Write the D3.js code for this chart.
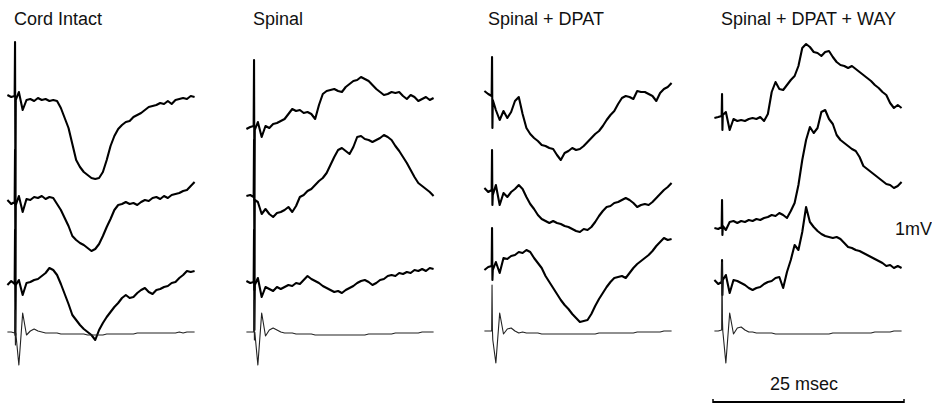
<!DOCTYPE html>
<html>
<head>
<meta charset="utf-8">
<script src="https://cdn.jsdelivr.net/npm/d3@7"></script>
<style>
  body { margin: 0; background: #fff; }
  text { font-family: "Liberation Sans", Arial, sans-serif; font-size: 18px; fill: #111; }
</style>
</head>
<body>
<div id="chart"></div>
<script>
// Evoked potentials, 4 conditions x 4 sweeps (3 recordings + stimulus-only sweep)

let conditions = ["Cord Intact", "Spinal", "Spinal + DPAT", "Spinal + DPAT + WAY"];

// sample times (msec), stimulus at 1.0 msec
let times = [0, 0.5, 0.95, 1.0, 1.05, 1.1,
  1.5, 2, 2.5, 3, 3.5, 4, 4.5, 5, 5.5, 6,
  6.5, 7, 7.5, 8, 8.5, 9, 9.5, 10, 10.5, 11,
  11.5, 12, 12.5, 13, 13.5, 14, 14.5, 15, 15.5, 16,
  16.5, 17, 17.5, 18, 18.5, 19, 19.5, 20, 20.5, 21,
  21.5, 22, 22.5, 23, 23.5, 24, 24.5];

// potentials (microvolts) relative to pre-stimulus level
let cordIntact = [
  [20, 0, 10, 550, -1080, -30, 50, -130, -30, -20, -40, -10, -30, -20, -40, -30, -40, -110, -210, -310, -470, -630, -700, -750, -780, -810, -820, -810, -750, -630, -490, -390, -320, -280, -250, -240, -200, -180, -160, -130, -100, -90, -80, -60, -70, -40, -70, -30, -20, -10, -20, 10, 0],
  [20, -20, 0, 520, -830, -30, 60, -100, 30, 20, 50, 40, 60, 30, 50, 40, -20, -80, -160, -240, -340, -380, -410, -430, -460, -490, -470, -420, -340, -250, -170, -80, -30, -20, 0, -20, -10, -30, 0, 20, 10, 40, 50, 30, 60, 40, 70, 80, 90, 110, 120, 160, 200],
  [-20, 20, -10, 530, -520, -20, 30, -120, 0, 10, 30, 40, 70, 100, 150, 130, 80, -10, -110, -210, -320, -370, -420, -460, -490, -520, -570, -470, -400, -340, -290, -240, -200, -150, -120, -150, -140, -100, -70, -50, -90, -110, -70, -60, -40, -30, 0, 10, 50, 80, 120, 110, 120],
  [10, 10, 0, 230, -120, 0, -320, 200, -20, 20, 40, 20, 10, 0, 0, 0, 0, -10, -10, -10, -10, -10, -10, -10, -20, -20, -20, -20, -20, -10, -10, -10, -10, -10, -10, -10, -10, 0, 0, 0, 0, 0, 0, 0, 0, 0, 0, 0, 10, 0, 10, 10, 10]
];

let spinal = [
  [-20, 0, 10, 670, -730, -30, 50, -100, 10, -10, 30, 40, 60, 80, 130, 180, 160, 170, 140, 150, 130, 80, 220, 330, 360, 370, 380, 360, 350, 400, 430, 460, 470, 500, 480, 460, 420, 380, 350, 320, 330, 350, 340, 350, 310, 280, 320, 300, 260, 280, 300, 270, 290],
  [0, 10, -10, 560, -940, -40, -60, -180, -130, -180, -210, -170, -160, -140, -110, -160, -100, -10, 10, 50, 70, 110, 150, 180, 230, 310, 390, 460, 480, 450, 420, 490, 590, 600, 570, 560, 540, 560, 580, 610, 590, 560, 500, 450, 390, 330, 260, 190, 130, 100, 70, 40, 0],
  [10, -10, 0, 520, -480, -30, 40, -150, -50, -70, -90, -50, -70, -50, -30, -40, -10, -20, 20, 60, 30, 10, -10, -40, -60, -80, -100, -90, -110, -80, -60, -40, -10, 10, 20, 0, -30, -10, 20, 30, 60, 70, 60, 90, 80, 100, 90, 120, 110, 130, 110, 140, 130],
  [0, 0, 0, 320, -80, 0, -330, 190, -40, 20, 40, 20, 0, -10, -10, -10, -20, -20, -20, -20, -20, -30, -30, -30, -30, -30, -30, -30, -30, -30, -30, -30, -30, -30, -30, -20, -20, -20, -20, -20, -20, -20, -10, -10, -10, -10, -10, -10, -10, 0, 0, 0, 0]
];

let spinalDpat = [
  [10, -20, -40, 350, -360, -80, -180, -280, -190, -260, -200, -90, -50, -220, -360, -420, -460, -490, -530, -540, -560, -570, -630, -680, -610, -590, -560, -580, -570, -540, -500, -460, -420, -390, -340, -280, -230, -190, -120, -60, -40, -50, -70, 10, 0, 0, -20, -40, -90, -10, 30, 50, 90],
  [10, -30, -10, 390, -160, -60, 40, -160, -40, -80, -30, 0, 40, 0, -80, -150, -200, -260, -300, -320, -340, -320, -340, -350, -370, -380, -400, -420, -430, -400, -410, -380, -330, -270, -220, -180, -170, -140, -130, -110, -90, -110, -140, -180, -160, -150, -160, -130, -90, -50, -10, 20, 60],
  [-20, 10, 20, 400, -120, -20, 60, -50, 100, 90, 120, 130, 160, 150, 180, 160, 100, 50, 0, -80, -140, -200, -260, -320, -370, -410, -460, -500, -540, -530, -520, -460, -380, -310, -250, -190, -140, -100, -90, -80, -100, -50, 0, 40, 70, 100, 130, 170, 220, 260, 300, 280, 290],
  [0, 0, 0, 460, 10, -90, -320, 180, -30, 20, 30, 0, -20, -10, -20, -20, -20, -20, -30, -30, -30, -30, -30, -30, -30, -30, -30, -30, -30, -30, -30, -30, -30, -20, -20, -20, -20, -20, -20, -20, -20, -20, -20, -10, -10, -10, -10, -10, -10, -10, 0, 0, 0]
];

let spinalDpatWay = [
  [0, 10, 20, 240, -120, 30, 60, -120, -10, -30, -20, -30, -10, 0, -10, 10, -30, 40, 260, 360, 290, 280, 330, 380, 420, 520, 700, 740, 710, 660, 650, 620, 660, 670, 610, 560, 530, 520, 500, 520, 490, 460, 430, 400, 370, 330, 300, 260, 230, 150, 100, 130, 100],
  [0, -10, 10, 280, -70, 20, -20, 60, 70, 50, 70, 60, 80, 70, 90, 80, 100, 110, 130, 120, 150, 130, 100, 170, 250, 430, 680, 880, 1010, 950, 1000, 1160, 1180, 1090, 1040, 930, 880, 850, 820, 790, 770, 710, 620, 590, 560, 530, 500, 470, 440, 430, 400, 420, 460],
  [20, -20, 0, 220, -130, 20, 70, -110, 20, 10, -10, -30, -60, -80, -60, -50, -20, 0, 10, 40, 50, -60, 100, 220, 370, 320, 500, 750, 600, 550, 510, 480, 460, 450, 440, 450, 430, 390, 350, 340, 320, 310, 290, 270, 250, 230, 210, 190, 160, 170, 140, 160, 140],
  [0, 0, 10, 690, 110, 0, -320, 180, -30, 30, 40, 10, -10, -10, -20, -20, -20, -20, -20, -30, -30, -30, -30, -30, -30, -30, -30, -30, -30, -30, -30, -30, -30, -30, -20, -20, -20, -20, -20, -20, -20, -20, -20, -20, -20, -10, -10, -10, -10, -10, 0, 0, 0]
];

let sweeps = [cordIntact, spinal, spinalDpat, spinalDpatWay];

let scaleBarMs = 25;
let scaleBarLabel = "25 msec";
let voltLabel = "1mV";

// layout
let width = 932, height = 406;
let panelX = [7.4, 246.4, 484.4, 714.4];
let titleX = [14, 253, 488, 721];
let sweepY = [
  [97, 202, 283, 333],
  [127, 196, 282, 332],
  [92, 189, 268, 331],
  [118, 228, 282, 331]
];

let svg = d3
  .select("#chart")
  .append("svg")
  .attr("width", width)
  .attr("height", height)
  .style("background", "#fff");

let timeScale = d3.scaleLinear().domain([0, 25]).range([0, 191]);
let voltScale = d3.scaleLinear().domain([-1000, 1000]).range([100, -100]);

let line = d3
  .line()
  .x((d, i) => timeScale(times[i]))
  .y(d => voltScale(d));

sweeps.forEach((panel, p) => {
  svg
    .append("text")
    .attr("x", titleX[p])
    .attr("y", 25)
    .text(conditions[p]);

  let g = svg.append("g").attr("transform", "translate(" + panelX[p] + ",0)");

  panel.forEach((trace, k) => {
    g.append("path")
      .datum(trace)
      .attr("transform", "translate(0," + sweepY[p][k] + ")")
      .attr("d", line)
      .attr("fill", "none")
      .attr("stroke", k == 3 ? "#222" : "#000")
      .attr("stroke-width", k == 3 ? 1.1 : 2.1)
      .attr("stroke-linejoin", "round");
  });
});

// scale bar and labels
let barX = 713, barY = 402;
svg
  .append("line")
  .attr("x1", barX + timeScale(0))
  .attr("x2", barX + timeScale(scaleBarMs))
  .attr("y1", barY)
  .attr("y2", barY)
  .attr("stroke", "#000")
  .attr("stroke-width", 2);

[0, scaleBarMs].forEach(t => {
  svg
    .append("line")
    .attr("x1", barX + timeScale(t))
    .attr("x2", barX + timeScale(t))
    .attr("y1", barY - 3)
    .attr("y2", barY + 1)
    .attr("stroke", "#000")
    .attr("stroke-width", 1.5);
});

svg.append("text").attr("x", 770).attr("y", 390).text(scaleBarLabel);
svg.append("text").attr("x", 895).attr("y", 235).text(voltLabel);
</script>
</body>
</html>
